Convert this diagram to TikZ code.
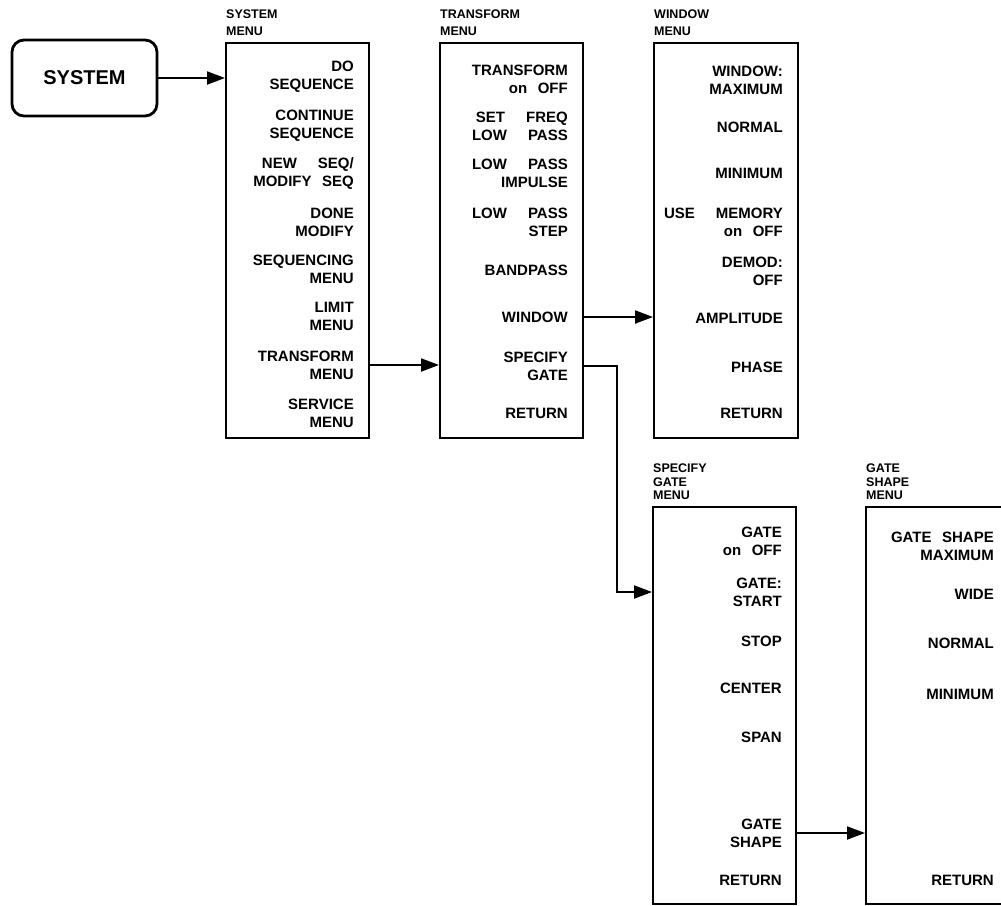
\documentclass[tikz,border=0pt]{standalone}
\usepackage{fontspec}
\setmainfont{Liberation Sans}
\usetikzlibrary{arrows.meta,calc}
\newcommand\gapW{\hspace{1.4em}}
\newcommand\gapN{\hspace{0.7em}}
\begin{document}
\begin{tikzpicture}[x=1pt,y=-1pt,
  menubox/.style={draw,line width=2.2pt,anchor=north west,inner sep=0pt,minimum width=143pt,minimum height=#1},
  item/.style={anchor=east,align=right,inner sep=0pt,font=\bfseries\fontsize{15}{18}\selectfont},
  ttl/.style={anchor=south west,align=left,inner sep=0pt,font=\bfseries\fontsize{12.5}{17.5}\selectfont},
  ttlb/.style={anchor=south west,align=left,inner sep=0pt,font=\bfseries\fontsize{12.5}{13.5}\selectfont},
  arr/.style={line width=2pt,-{Triangle[length=18pt,width=13pt]}}]
\useasboundingbox (0,0) rectangle (1001,905);
\clip (0,0) rectangle (1001,905);
\fill[white] (0,0) rectangle (1001,905);

% SYSTEM key
\node[draw,rounded corners=12pt,line width=2.8pt,minimum width=145pt,minimum height=76pt,inner sep=0pt,
      font=\bfseries\fontsize{20}{24}\selectfont] (btn) at (84.5,78) {SYSTEM};

% SYSTEM MENU
\node[menubox=395pt] (sys) at (225,42) {};
\node[ttl] (sysT) at (226,36) {SYSTEM\\MENU};
\node[item] (s1) at (354,77) {DO\\SEQUENCE};
\node[item] (s2) at (354,126) {CONTINUE\\SEQUENCE};
\node[item] (s3) at (354,174) {NEW\gapW SEQ/\\MODIFY\gapN SEQ};
\node[item] (s4) at (354,222) {DONE\\MODIFY};
\node[item] (s5) at (354,269) {SEQUENCING\\MENU};
\node[item] (s6) at (354,316) {LIMIT\\MENU};
\node[item] (s7) at (354,365) {TRANSFORM\\MENU};
\node[item] (s8) at (354,413) {SERVICE\\MENU};

% TRANSFORM MENU
\node[menubox=395pt] (tr) at (439,42) {};
\node[ttl] (trT) at (440,36) {TRANSFORM\\MENU};
\node[item] (t1) at (568,79) {TRANSFORM\\on\gapN OFF};
\node[item] (t2) at (568,126) {SET\gapW FREQ\\LOW\gapW PASS};
\node[item] (t3) at (568,173) {LOW\gapW PASS\\IMPULSE};
\node[item] (t4) at (568,222) {LOW\gapW PASS\\STEP};
\node[item] (t5) at (568,270) {BANDPASS};
\node[item] (t6) at (568,317) {WINDOW};
\node[item] (t7) at (568,366) {SPECIFY\\GATE};
\node[item] (t8) at (568,413) {RETURN};

% WINDOW MENU
\node[menubox=395pt,minimum width=144pt] (win) at (653,42) {};
\node[ttl] (winT) at (654,36) {WINDOW\\MENU};
\node[item] (w1) at (783,80) {WINDOW:\\MAXIMUM};
\node[item] (w2) at (783,127) {NORMAL};
\node[item] (w3) at (783,173) {MINIMUM};
\node[item] (w4) at (783,222) {USE\gapW MEMORY\\on\gapN OFF};
\node[item] (w5) at (783,271) {DEMOD:\\OFF};
\node[item] (w6) at (783,318) {AMPLITUDE};
\node[item] (w7) at (783,367) {PHASE};
\node[item] (w8) at (783,413) {RETURN};

% SPECIFY GATE MENU
\node[menubox=397pt] (sg) at (652,506) {};
\node[ttlb] (sgT) at (653,500) {SPECIFY\\GATE\\MENU};
\node[item] (g1) at (782,541) {GATE\\on\gapN OFF};
\node[item] (g2) at (782,592) {GATE:\\START};
\node[item] (g3) at (782,641) {STOP};
\node[item] (g4) at (782,688) {CENTER};
\node[item] (g5) at (782,737) {SPAN};
\node[item] (g6) at (782,833) {GATE\\SHAPE};
\node[item] (g7) at (782,880) {RETURN};

% GATE SHAPE MENU
\node[menubox=397pt] (gs) at (865,506) {};
\node[ttlb] (gsT) at (866,500) {GATE\\SHAPE\\MENU};
\node[item] (h1) at (994,546) {GATE\gapN SHAPE\\MAXIMUM};
\node[item] (h2) at (994,594) {WIDE};
\node[item] (h3) at (994,643) {NORMAL};
\node[item] (h4) at (994,694) {MINIMUM};
\node[item] (h5) at (994,880) {RETURN};

% connectors
\coordinate (bend) at (617,366);
\draw[arr] (btn.east) -- (sys.west |- btn.east);
\draw[arr] (sys.east |- s7.east) -- (tr.west |- s7.east);
\draw[arr] (tr.east |- t6.east) -- (win.west |- t6.east);
\draw[arr] (tr.east |- t7.east) -| (bend |- g2.east) -- (sg.west |- g2.east);
\draw[arr] (sg.east |- g6.east) -- (gs.west |- g6.east);
\end{tikzpicture}
\end{document}
